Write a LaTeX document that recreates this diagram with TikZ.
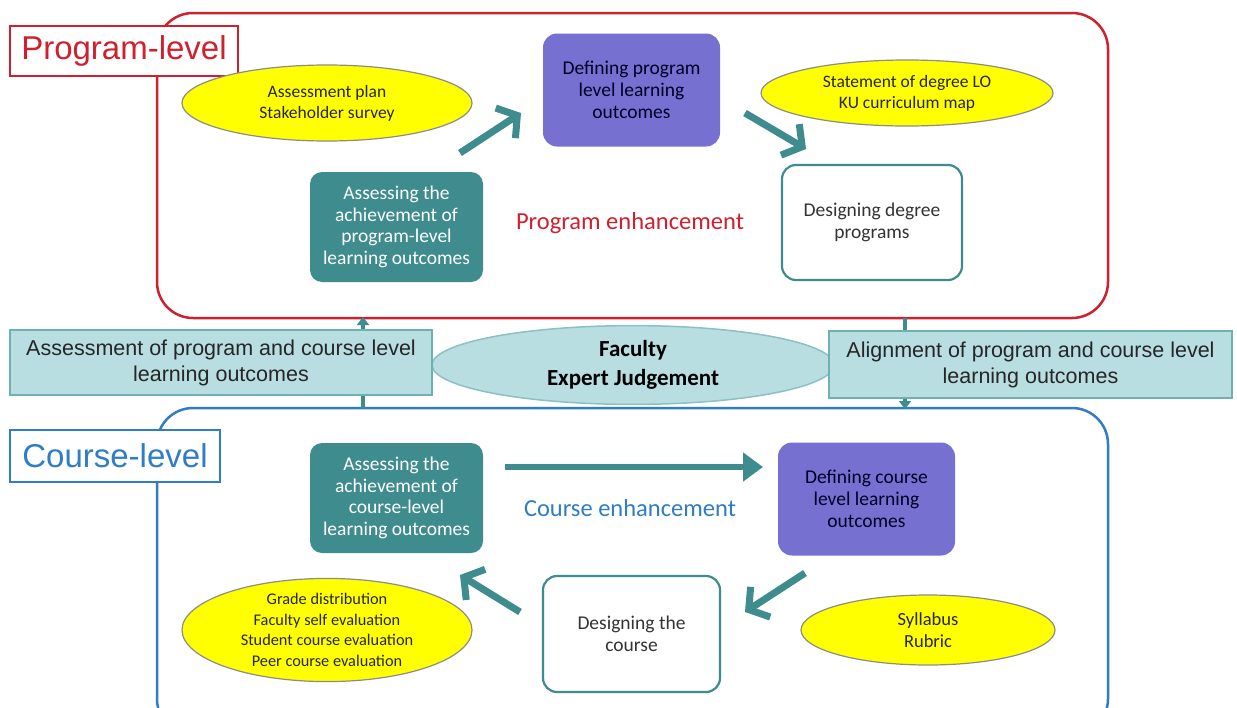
\documentclass[tikz,border=0pt]{standalone}
\usepackage{fontspec}
\setmainfont{Carlito}
\newfontfamily\arialf{Liberation Sans}
\usetikzlibrary{arrows.meta,shapes.geometric}
\definecolor{tealc}{HTML}{3F8C8E}
\definecolor{purp}{HTML}{7670D0}
\definecolor{redc}{HTML}{D0202E}
\definecolor{bluec}{HTML}{2F7DC6}
\definecolor{bandfill}{HTML}{B8DEE2}
\definecolor{bandline}{HTML}{6FB0B3}
\definecolor{ellfill}{HTML}{FFFF00}
\tikzset{
  outer/.style={line width=2.5pt, rounded corners=36pt},
  tealbox/.style={fill=tealc, draw=none, rounded corners=12pt, text=white, align=center,
    minimum width=173pt, minimum height=110pt, inner sep=2pt, font=\fontsize{19.5}{21.7}\selectfont},
  purpbox/.style={fill=purp, draw=none, rounded corners=14pt, text=black!85!blue, align=center,
    minimum width=177pt, minimum height=113pt, inner sep=2pt, font=\fontsize{19.5}{21.7}\selectfont},
  whitebox/.style={fill=white, draw=tealc, line width=2.2pt, rounded corners=14pt, text=black!80, align=center,
    minimum width=177pt, minimum height=114pt, inner sep=2pt, font=\fontsize{19.5}{21.7}\selectfont},
  yell/.style={ellipse, fill=ellfill, draw=black!45, line width=1.2pt, align=center, inner sep=0pt,
    text=black!85},
  bandbox/.style={fill=bandfill, draw=bandline, line width=2pt, align=center, inner sep=2pt,
    font=\arialf\fontsize{21.5}{26}\selectfont, text=black!85},
  lvlbox/.style={fill=white, line width=2pt, inner sep=2pt, font=\arialf\fontsize{33}{36}\selectfont},
  bigarrow/.style={draw=tealc, line width=7pt, -{Straight Barb[length=14pt,width=36pt]}},
  hbarrow/.style={draw=tealc, line width=6pt, -{Triangle[length=20pt,width=28pt]}},
  conn/.style={draw=tealc, line width=3.5pt},
}
\begin{document}
\begin{tikzpicture}[x=1pt,y=-1pt]
\useasboundingbox[fill=white] (0,0) rectangle (1237,707);

% outer frames
\draw[outer, draw=redc] (157,13) rectangle (1108,318);
\draw[outer, draw=bluec] (157,408) rectangle (1108,735);

% vertical connectors
\coordinate (lbot) at (363,408);
\coordinate (ltop) at (363,317);
\coordinate (rtop) at (905,318);
\coordinate (rbot) at (905,409);
\draw[conn, -{Triangle[length=8pt,width=12pt]}] (lbot) -- (ltop);
\draw[conn, -{Triangle[length=8pt,width=12pt]}] (rtop) -- (rbot);

% level labels
\node[lvlbox, draw=redc, text=redc, minimum width=228pt, minimum height=50pt] (pl) at (124,51) {Program-level};
\node[lvlbox, draw=bluec, text=bluec, minimum width=210pt, minimum height=52pt] (cl) at (115,456) {Course-level};

% program level
\node[yell, minimum width=290pt, minimum height=76pt, font=\fontsize{17.5}{21}\selectfont] (pe1) at (327,103) {Assessment plan\\Stakeholder survey};
\node[purpbox] (pd) at (631.5,90) {Defining program\\level learning\\outcomes};
\node[yell, minimum width=292pt, minimum height=66pt, font=\fontsize{17.5}{21}\selectfont] (pe2) at (907,93) {Statement of degree LO\\KU curriculum map};
\node[tealbox] (pa) at (396.5,227) {Assessing the\\achievement of\\program-level\\learning outcomes};
\node[whitebox, minimum width=180pt, minimum height=115pt] (pg) at (872,222.5) {Designing degree\\programs};
\node[text=redc, font=\fontsize{24.5}{28}\selectfont] (pen) at (630,223) {Program enhancement};

\coordinate (a1s) at (460,153);
\coordinate (a1e) at (521,113);
\coordinate (a2s) at (745,113);
\coordinate (a2e) at (806,149);
\draw[bigarrow] (a1s) -- (a1e);
\draw[bigarrow] (a2s) -- (a2e);

% middle band
\node[ellipse, fill=bandfill, draw=bandline!80, line width=1.5pt, minimum width=402pt, minimum height=72pt,
  align=center, font=\bfseries\fontsize{23}{29}\selectfont] (fj) at (633,365) {Faculty\\Expert Judgement};
\node[bandbox, minimum width=422pt, minimum height=65pt] (am) at (221,362.5) {Assessment of program and course level\\learning outcomes};
\node[bandbox, minimum width=403pt, minimum height=67pt] (al) at (1030.5,364.5) {Alignment of program and course level\\learning outcomes};

% course level
\node[tealbox] (ca) at (396.5,498) {Assessing the\\achievement of\\course-level\\learning outcomes};
\node[purpbox] (cd) at (866.5,499) {Defining course\\level learning\\outcomes};
\node[whitebox, minimum height=116pt] (cg) at (631.5,634) {Designing the\\course};
\node[yell, minimum width=290pt, minimum height=100pt, font=\fontsize{16.3}{20.5}\selectfont] (ce1) at (327,630) {Grade distribution\\Faculty self evaluation\\Student course evaluation\\Peer course evaluation};
\node[yell, minimum width=254pt, minimum height=70pt, font=\fontsize{18.5}{22}\selectfont] (ce2) at (928,630) {Syllabus\\Rubric};
\node[text=bluec, font=\fontsize{24.5}{28}\selectfont] (cen) at (630,508) {Course enhancement};

\coordinate (b1s) at (505,467);
\coordinate (b1e) at (763,467);
\coordinate (b2s) at (805,573);
\coordinate (b2e) at (745,612);
\coordinate (b3s) at (520,612);
\coordinate (b3e) at (460,575);
\draw[hbarrow] (b1s) -- (b1e);
\draw[bigarrow] (b2s) -- (b2e);
\draw[bigarrow] (b3s) -- (b3e);
\end{tikzpicture}
\end{document}
